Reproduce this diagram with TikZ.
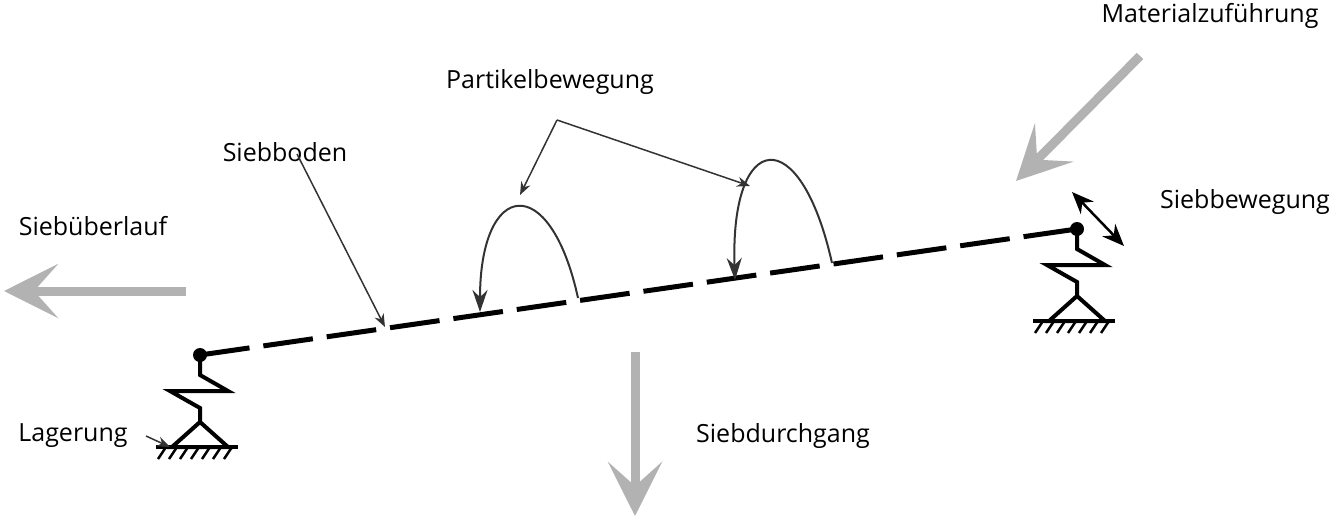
\documentclass[tikz,border=0pt]{standalone}
\usepackage{fontspec}
\setmainfont{Open Sans}
\usetikzlibrary{arrows.meta,positioning,calc}
\tikzset{
  flow/.style={draw=black!30,line width=9pt,-{Stealth[length=54pt,width=54pt,inset=24pt]}},
  pointer/.style={draw=black!80,line width=1.5pt,-{Stealth[length=13pt,width=10pt]}},
  lbl/.style={font=\fontsize{25}{29}\selectfont,inner sep=0pt},
  spring/.style={line width=4pt,line join=miter},
}
\begin{document}
\begin{tikzpicture}[x=1pt,y=-1pt]
\useasboundingbox (0,0) rectangle (1336,520);

% supports
\coordinate (pl) at (200,355);
\coordinate (pr) at (1077,229);
\foreach \p/\n in {pl/l,pr/r}{
  \draw[spring] (\p) -- ++(0,20) -- ++(28,16) -- ++(-58,0) -- ++(30,17) -- ++(0,14);
  \draw[spring] ($(\p)+(0,67)$) -- ++(-28,25) -- ++(56,0) -- cycle;
  \draw[line width=4pt] ($(\p)+(-44,92)$) coordinate (g\n) -- ++(82,0);
  \foreach \i in {0,...,6}
    \draw[line width=2.5pt] ($(\p)+(-34+\i*11,92)$) -- ++(-8,12);
  \fill (\p) circle (7);
}
\draw[line width=5pt,dash pattern=on 50pt off 14pt] (pl) -- (pr);

% particle paths
\coordinate (a1) at (578,298);
\coordinate (a2) at (832,263);
\coordinate (b1) at (480,312);
\coordinate (b2) at (735,280);
\draw[line width=2pt,black!80,-{Stealth[length=22pt,width=15pt]}]
  (a1) .. controls (550,170) and (480,180) .. (b1);
\draw[line width=2pt,black!80,-{Stealth[length=22pt,width=15pt]}]
  (a2) .. controls (800,120) and (730,130) .. (b2);

% labels
\node[lbl] (mat) at (1210,16) {Materialzuführung};
\node[lbl] (beweg) at (1245,202) {Siebbewegung};
\node[lbl] (ueber) at (93,226) {Siebüberlauf};
\node[lbl] (boden) at (285,152) {Siebboden};
\node[lbl] (part) at (550,82) {Partikelbewegung};
\node[lbl] (durch) at (783,436) {Siebdurchgang};
\node[lbl] (lager) at (73,436) {Lagerung};

% pointers
\coordinate (pk) at (557,120);
\draw[pointer] (pk) -- (520,195);
\draw[pointer] (pk) -- (750,186);
\draw[pointer] (297,154) -- (385,327);
\draw[pointer] (146,436) -- (170,447);
\draw[line width=2.5pt,{Stealth[length=22pt,width=18pt]}-{Stealth[length=22pt,width=18pt]}]
  (1072,192) -- (1124,246);

% flows
\draw[flow] (186,291) -- (4,291);
\draw[flow] (635,352) -- (635,516);
\draw[flow] (1140,56) -- (1016,181);
\end{tikzpicture}
\end{document}
